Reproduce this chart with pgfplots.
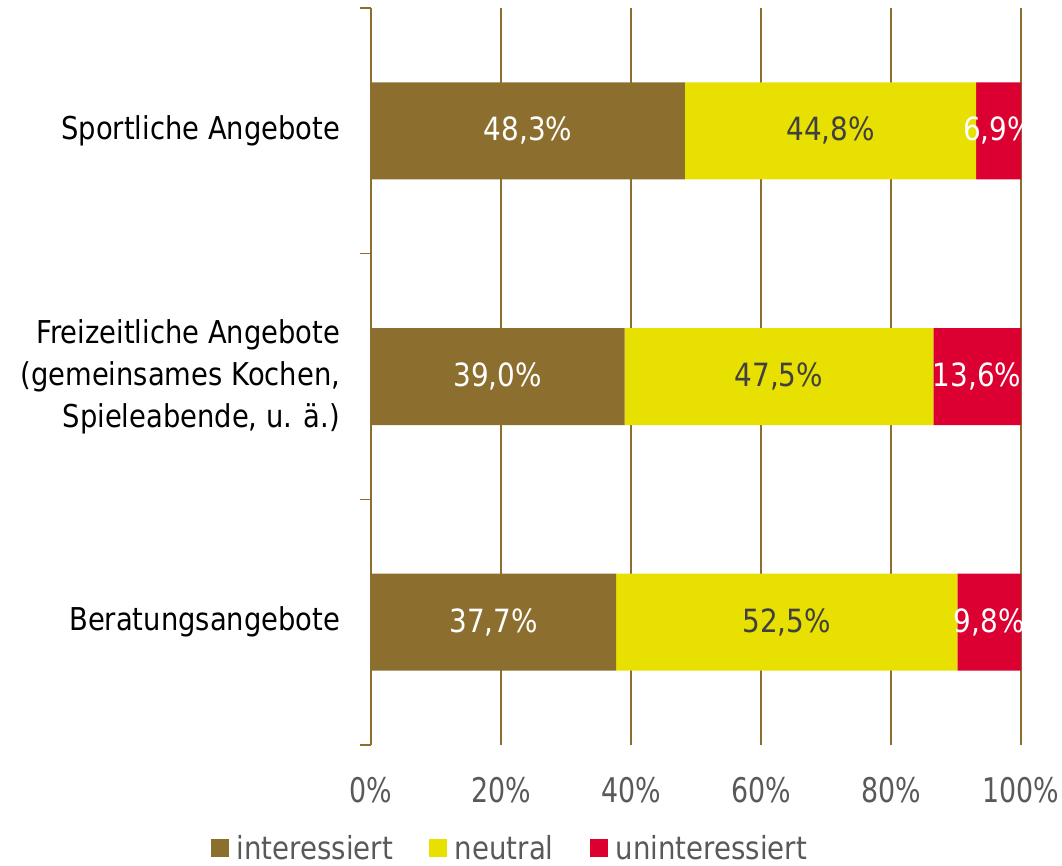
\documentclass[border=0pt]{standalone}
\usepackage{pgfplots}
\pgfplotsset{compat=1.18}
\usepackage{fontspec}
\setmainfont{DejaVu Sans}[FakeStretch=0.87]
\newfontfamily\tickfont{DejaVu Sans}[FakeStretch=0.79]
\definecolor{cbrown}{RGB}{140,110,46}
\definecolor{cyellow}{RGB}{232,224,0}
\definecolor{cred}{RGB}{220,0,50}
\definecolor{tgray}{RGB}{89,89,89}
\definecolor{lgray}{RGB}{64,64,64}
\pgfplotstableread{
x y v
24.15 3 48.3
19.5 2 39.0
18.85 1 37.7
}\labA
\pgfplotstableread{
x y v
70.7 3 44.8
62.75 2 47.5
63.95 1 52.5
}\labB
\pgfplotstableread{
x y v
96.55 3 6.9
93.25 2 13.6
95.1 1 9.8
}\labC
\begin{document}
\begin{tikzpicture}
\useasboundingbox (-278.25pt,-90pt) rectangle (518.25pt,558.75pt);
\begin{axis}[
 at={(0pt,0pt)}, anchor=south west,
 scale only axis, width=487.5pt, height=552.75pt,
 xbar stacked, bar width=72.75pt,
 xmin=0, xmax=100, ymin=0.5, ymax=3.5,
 /pgf/number format/assume math mode=true,
 xtick={0,20,...,100},
 xticklabel={\pgfmathprintnumber{\tick}\%},
 xticklabel style={text=tgray, font=\tickfont\fontsize{25.5}{30}\selectfont, yshift=-20.5pt},
 xmajorgrids, grid style={cbrown, line width=1.2pt},
 ytick={1,2,3},
 yticklabels={Beratungsangebote, {Freizeitliche Angebote\\(gemeinsames Kochen,\\Spieleabende, u. ä.)}, Sportliche Angebote},
 yticklabel style={align=right, text=black, font=\fontsize{23.6}{31.5}\selectfont, inner sep=0pt, xshift=-23pt},
 minor ytick={0.5,1.5,2.5,3.5},
 axis lines*=left, x axis line style={draw=none},
 y axis line style={cbrown, line width=1.2pt},
 major tick length=0pt, minor tick length=8pt, tick align=outside,
 minor tick style={cbrown, line width=1.2pt},
 area legend,
 legend columns=3,
 legend image code/.code={\fill[#1] (0pt,-6.75pt) rectangle (13.5pt,6.75pt);},
 legend style={draw=none, fill=none, at={(0.2150,-0.1400)}, anchor=center,
   font=\fontsize{23.8}{28}\selectfont, text=tgray,
   nodes={inner xsep=3pt},
   /tikz/every odd column/.append style={column sep=3pt},
   /tikz/every even column/.append style={column sep=24pt}},
]
\addplot[fill=cbrown, draw=none] coordinates {(37.7,1) (39.0,2) (48.3,3)};
\addplot[fill=cyellow, draw=none] coordinates {(52.5,1) (47.5,2) (44.8,3)};
\addplot[fill=cred, draw=none] coordinates {(9.8,1) (13.6,2) (6.9,3)};
\legend{interessiert, neutral, uninteressiert}
\end{axis}
\begin{axis}[
 at={(0pt,0pt)}, anchor=south west,
 scale only axis, width=487.5pt, height=552.75pt,
 xmin=0, xmax=100, ymin=0.5, ymax=3.5,
 hide axis, clip=false,
 /pgf/number format/assume math mode=true,
 nodes near coords={\pgfmathprintnumber[fixed, fixed zerofill, precision=1, use comma]{\pgfplotspointmeta}\%},
 nodes near coords align=center,
]
\addplot[draw=none, mark=none, point meta=explicit, every node near coord/.append style={text=white, font=\fontsize{24}{29}\selectfont}] table[x=x, y=y, meta=v] {\labA};
\addplot[draw=none, mark=none, point meta=explicit, every node near coord/.append style={text=lgray, font=\fontsize{24}{29}\selectfont}] table[x=x, y=y, meta=v] {\labB};
\addplot[draw=none, mark=none, point meta=explicit, every node near coord/.append style={text=white, font=\fontsize{24}{29}\selectfont}] table[x=x, y=y, meta=v] {\labC};
\end{axis}
\end{tikzpicture}
\end{document}
